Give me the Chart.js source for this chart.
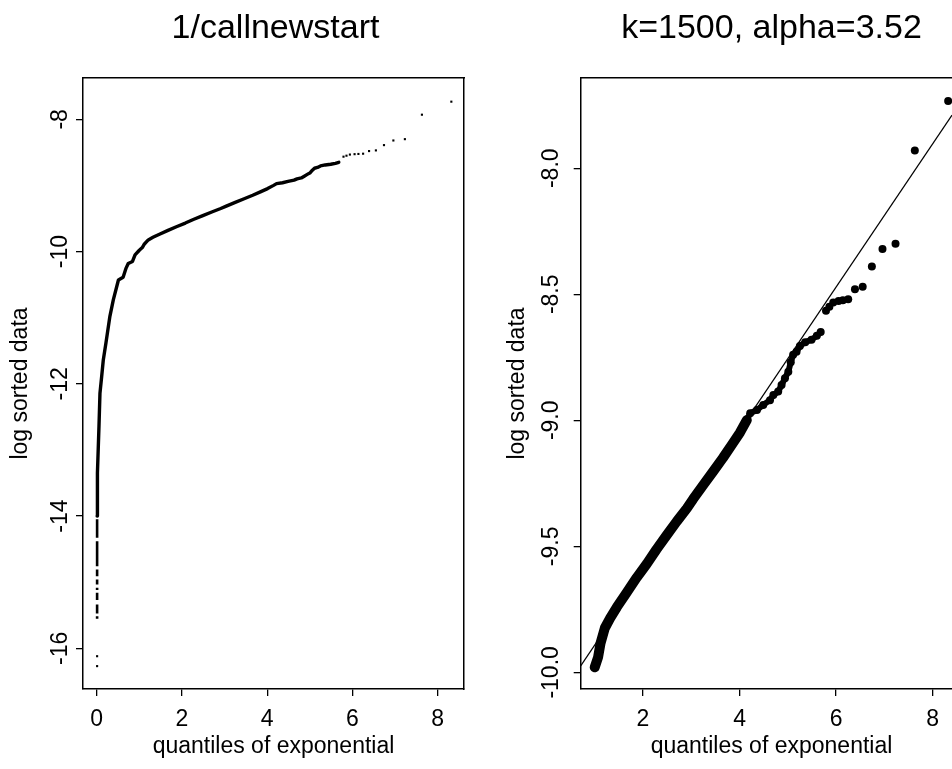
<!DOCTYPE html>
<html><head><meta charset="utf-8">
<script src="https://cdn.jsdelivr.net/npm/chart.js@4/dist/chart.umd.min.js"></script>
<style>
html,body{margin:0;padding:0;background:#fff;overflow:hidden;width:952px;height:769px;}
#wrap{position:relative;width:952px;height:769px;overflow:hidden;background:#fff;}
canvas{position:absolute;top:0;}
#c1{left:0;}
#c2{left:476px;}
</style></head><body>
<div id="wrap"><canvas id="c1" width="551" height="769"></canvas><canvas id="c2" width="591" height="769"></canvas></div>
<script>
// ---- text ----
const chartTitles = ['1/callnewstart', 'k=1500, alpha=3.52'];
const xAxisTitle = 'quantiles of exponential';
const yAxisTitle = 'log sorted data';

// ---- tick labels ----
const leftXTicks = [0, 2, 4, 6, 8];
const leftYTicks = [-16, -14, -12, -10, -8];
const leftYTickLabels = ['-16', '-14', '-12', '-10', '-8'];
const rightXTicks = [2, 4, 6, 8];
const rightYTicks = [-10, -9.5, -9, -8.5, -8];
const rightYTickLabels = ['-10.0', '-9.5', '-9.0', '-8.5', '-8.0'];

// ---- data: lower part of the QQ curve (left panel only) ----
const lowCurveX = [0.01, 0.012, 0.023, 0.054, 0.077, 0.117, 0.155, 0.218, 0.31, 0.39, 0.51, 0.62, 0.69, 0.74, 0.84, 0.90];
const lowCurveY = [-14.0, -13.8, -13.35, -12.64, -12.14, -11.89, -11.64, -11.38, -10.98, -10.73, -10.43, -10.39, -10.25, -10.18, -10.15, -10.05];

// ---- data: upper k=1500 part of the curve (both panels) ----
const bodyX = [1.00, 1.07, 1.12, 1.21, 1.32, 1.46, 1.66, 1.87, 2.08, 2.28, 2.49, 2.70, 2.91, 3.04, 3.25, 3.46, 3.66, 3.84, 4.01, 4.15, 4.22, 4.36, 4.49, 4.63, 4.70, 4.80, 4.87, 4.94, 5.01, 5.06, 5.11, 5.18, 5.25, 5.36, 5.49, 5.60, 5.68];
const bodyY = [-9.98, -9.94, -9.885, -9.824, -9.785, -9.741, -9.684, -9.624, -9.569, -9.512, -9.456, -9.401, -9.349, -9.312, -9.256, -9.201, -9.148, -9.097, -9.048, -8.999, -8.972, -8.959, -8.939, -8.92, -8.90, -8.886, -8.86, -8.833, -8.807, -8.77, -8.74, -8.728, -8.705, -8.69, -8.68, -8.665, -8.65];

// ---- data: largest observations (isolated points) ----
const tailX = [5.79, 5.86, 5.94, 6.05, 6.14, 6.25, 6.39, 6.55, 6.74, 6.96, 7.23, 7.63, 8.32];
const tailY = [-8.565, -8.55, -8.533, -8.527, -8.524, -8.52, -8.48, -8.47, -8.39, -8.32, -8.30, -7.93, -7.733];

// ---- data: ties at the very bottom (left panel) ----
const dashX = 0.01;
const dashTop = [-14.05, -14.38, -14.81, -14.96, -15.085, -15.16, -15.337, -15.514];
const dashBottom = [-14.33, -14.758, -14.91, -15.035, -15.12, -15.27, -15.473, -15.553];
const minDotsX = [0.01, 0.01];
const minDotsY = [-16.12, -16.27];

// ---- fitted line (right panel), endpoints ----
const fitX = [0.71, 8.40];
const fitY = [-9.974, -7.789];

// ---- build ----
const FONT = 'Liberation Sans';
Chart.defaults.color = '#000';
Chart.defaults.font.family = FONT;

const pts = (xs, ys) => xs.map((x, i) => ({x: x, y: ys[i]}));
const dashData = [];
dashTop.forEach((t, i) => {
  dashData.push({x: dashX, y: t});
  dashData.push({x: dashX, y: dashBottom[i]});
  dashData.push({x: dashX, y: null});
});
const bodyPts = pts(bodyX, bodyY);
const splitAt = bodyX.indexOf(4.15);
const bodyLower = bodyPts.slice(0, splitAt + 1);
const bodyUpper = bodyPts.slice(splitAt);

function fixedTicks(vals) { return s => { s.ticks = vals.map(v => ({value: v})); }; }

function makeScales(o) {
  const tickFont = {family: FONT, size: 23};
  const gridOpt = {display: true, drawOnChartArea: false, drawTicks: true, tickLength: 7, color: '#000', lineWidth: 1.3};
  const borderOpt = {display: true, color: '#000', width: 1.5};
  return {
    x: {
      type: 'linear', position: 'bottom', min: o.xmin, max: o.xmax,
      afterBuildTicks: fixedTicks(o.xTicks),
      ticks: {font: tickFont, color: '#000', padding: 10, autoSkip: false, maxRotation: 0, minRotation: 0,
              callback: (v, i) => String(o.xTicks[i])},
      grid: gridOpt, border: borderOpt,
      title: {display: true, text: xAxisTitle, color: '#000', font: {family: FONT, size: 23}, padding: {top: 0, bottom: 9}},
      afterFit: s => { s.height = 80; }
    },
    y: {
      type: 'linear', position: 'left', min: o.ymin, max: o.ymax,
      afterBuildTicks: fixedTicks(o.yTicks),
      ticks: {font: tickFont, color: '#000', padding: o.yPad, autoSkip: false, minRotation: 90, maxRotation: 90,
              crossAlign: 'center', callback: (v, i) => o.yLabels[i]},
      grid: gridOpt, border: borderOpt,
      title: {display: true, text: yAxisTitle, color: '#000', font: {family: FONT, size: 23}, padding: {top: o.yTitlePad, bottom: 0}},
      afterFit: s => { s.width = o.yWidth; }
    },
    xTop: {
      type: 'linear', position: 'top', min: 0, max: 1,
      ticks: {display: false}, grid: {display: false}, border: borderOpt,
      afterFit: s => { s.height = 0; }
    },
    yRight: {
      type: 'linear', position: 'right', min: 0, max: 1,
      ticks: {display: false}, grid: {display: false}, border: borderOpt,
      afterFit: s => { s.width = o.rightWidth; }
    }
  };
}

function makeOptions(title, scales) {
  return {
    responsive: false, animation: false, devicePixelRatio: 1,
    layout: {padding: 0},
    plugins: {
      legend: {display: false}, tooltip: {enabled: false},
      title: {display: true, text: title, color: '#000', font: {family: FONT, size: 34, weight: 'normal', lineHeight: 1.2},
              padding: {top: 8.6, bottom: 28.6}}
    },
    scales: scales
  };
}

// Left panel
new Chart(document.getElementById('c1'), {
  type: 'scatter',
  data: {datasets: [
    {data: pts(lowCurveX.concat(bodyX), lowCurveY.concat(bodyY)), showLine: true, borderColor: '#000', borderWidth: 3.4,
     pointRadius: 0, borderJoinStyle: 'round', borderCapStyle: 'round'},
    {data: dashData, showLine: true, spanGaps: false, borderColor: '#000', borderWidth: 2.6, pointRadius: 0},
    {data: pts(tailX, tailY), pointStyle: 'rect', pointRadius: 1.5, pointBackgroundColor: '#000', pointBorderWidth: 0},
    {data: pts(minDotsX, minDotsY), pointStyle: 'rect', pointRadius: 1.5, pointBackgroundColor: '#000', pointBorderWidth: 0}
  ]},
  options: makeOptions(chartTitles[0], makeScales({
    xmin: -0.321, xmax: 8.617, ymin: -16.616, ymax: -7.375,
    xTicks: leftXTicks, yTicks: leftYTicks, yLabels: leftYTickLabels,
    yPad: -1.6, yTitlePad: 7, yWidth: 83, rightWidth: 87
  }))
});

// Right panel
new Chart(document.getElementById('c2'), {
  type: 'scatter',
  data: {datasets: [
    {data: bodyLower, showLine: true, borderColor: '#000', borderWidth: 10, borderJoinStyle: 'round', borderCapStyle: 'round',
     pointRadius: 0},
    {data: bodyUpper, showLine: true, borderColor: '#000', borderWidth: 6, borderJoinStyle: 'round', borderCapStyle: 'round',
     pointRadius: 4, pointBackgroundColor: '#000', pointBorderWidth: 0},
    {data: pts(tailX, tailY), pointRadius: 4, pointBackgroundColor: '#000', pointBorderWidth: 0},
    {data: pts(fitX, fitY), showLine: true, borderColor: '#000', borderWidth: 1.2, pointRadius: 0}
  ]},
  options: makeOptions(chartTitles[1], makeScales({
    xmin: 0.71, xmax: 8.613, ymin: -10.066, ymax: -7.642,
    xTicks: rightXTicks, yTicks: rightYTicks, yLabels: rightYTickLabels,
    yPad: -4.2, yTitlePad: 28, yWidth: 104.7, rightWidth: 104.7
  }))
});
</script>
</body></html>
